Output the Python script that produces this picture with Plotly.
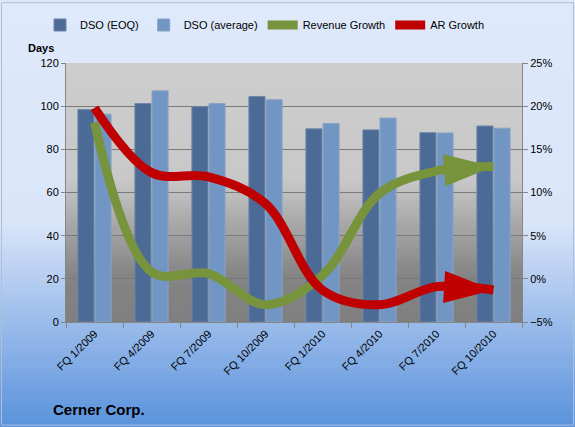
import plotly.graph_objects as go

categories = ["FQ 1/2009", "FQ 4/2009", "FQ 7/2009", "FQ 10/2009",
              "FQ 1/2010", "FQ 4/2010", "FQ 7/2010", "FQ 10/2010"]
dso_eoq = [98.4, 101.2, 99.8, 104.5, 89.5, 89.0, 87.7, 90.8]
dso_avg = [96.3, 107.1, 101.2, 103.0, 92.0, 94.5, 87.6, 89.8]
revenue_growth = [18.1, 0.8, 0.6, -3.0, 0.4, 9.9, 12.5, 13.0]
ar_growth = [19.8, 12.3, 11.8, 8.7, -1.3, -3.0, -0.9, -1.3]

W, H = 575, 427
ML, MR, MT, MB = 66, 53, 62, 105
PW, PH = W - ML - MR, H - MT - MB

FONT = "Liberation Sans"


def lerp_color(stops, t):
    for i in range(len(stops) - 1):
        t0, c0 = stops[i]
        t1, c1 = stops[i + 1]
        if t0 <= t <= t1:
            f = 0 if t1 == t0 else (t - t0) / (t1 - t0)
            c = [round(c0[k] + (c1[k] - c0[k]) * f) for k in range(3)]
            return "rgb(%d,%d,%d)" % tuple(c)
    c = stops[-1][1]
    return "rgb(%d,%d,%d)" % tuple(c)


def px_x(x):
    return (x - ML) / PW


def px_y(y):
    return 1 - (y - MT) / PH


shapes = []
# figure background gradient (top -> bottom)
paper_stops = [(0.0, (222, 233, 251)), (0.52, (217, 229, 249)),
               (0.63, (188, 209, 242)), (1.0, (90, 146, 220))]
N = 90
for i in range(N):
    y0 = H * i / N
    y1 = H * (i + 1) / N + 0.6
    shapes.append(dict(type="rect", xref="paper", yref="paper",
                       x0=px_x(0), x1=px_x(W), y0=px_y(y1), y1=px_y(y0),
                       fillcolor=lerp_color(paper_stops, (i + 0.5) / N),
                       line=dict(width=0), layer="below"))
# plot area gradient
plot_stops = [(0.0, (205, 205, 205)), (0.45, (200, 200, 200)),
              (0.62, (168, 168, 168)), (0.82, (132, 132, 132)),
              (1.0, (127, 127, 127))]
N2 = 70
for i in range(N2):
    y0 = MT + PH * i / N2
    y1 = MT + PH * (i + 1) / N2 + 0.5
    shapes.append(dict(type="rect", xref="paper", yref="paper",
                       x0=0, x1=1, y0=px_y(min(y1, MT + PH)), y1=px_y(y0),
                       fillcolor=lerp_color(plot_stops, (i + 0.5) / N2),
                       line=dict(width=0), layer="below"))
# outer border
shapes.append(dict(type="rect", xref="paper", yref="paper",
                   x0=px_x(1.5), x1=px_x(W - 1.5), y0=px_y(H - 1.5), y1=px_y(1.5),
                   line=dict(color="#AEBFD8", width=1), layer="below"))

fig = go.Figure()
fig.add_trace(go.Bar(x=categories, y=dso_eoq, name="DSO (EOQ)",
                     marker=dict(color="#4B6B96",
                                 line=dict(color="#6F86A6", width=1))))
fig.add_trace(go.Bar(x=categories, y=dso_avg, name="DSO (average)",
                     marker=dict(color="#7196C3",
                                 line=dict(color="#8AA3C4", width=1))))

n = len(categories)
sizes = [0] * (n - 1) + [52]
fig.add_trace(go.Scatter(x=categories, y=revenue_growth, name="Revenue Growth",
                         yaxis="y2", mode="lines+markers",
                         line=dict(color="#77933C", width=9, shape="spline",
                                   smoothing=1.0),
                         marker=dict(symbol="arrow", size=sizes, angleref="previous",
                                     color="#77933C", opacity=1,
                                     line=dict(width=0))))
fig.add_trace(go.Scatter(x=categories, y=ar_growth, name="AR Growth",
                         yaxis="y2", mode="lines+markers",
                         line=dict(color="#C00000", width=9, shape="spline",
                                   smoothing=1.0),
                         marker=dict(symbol="arrow", size=sizes, angleref="previous",
                                     color="#C00000", opacity=1,
                                     line=dict(width=0))))

axis_font = dict(family=FONT, size=11, color="#000000")

fig.update_layout(
    width=W, height=H,
    margin=dict(l=ML, r=MR, t=MT, b=MB, pad=0),
    paper_bgcolor="#DEE9FB",
    plot_bgcolor="rgba(0,0,0,0)",
    barmode="group", bargap=0.4, bargroupgap=0.06,
    shapes=shapes,
    showlegend=True,
    legend=dict(orientation="h", x=px_x(40), xanchor="left",
                y=px_y(25), yanchor="middle",
                font=dict(family=FONT, size=11, color="#000000"),
                bgcolor="rgba(0,0,0,0)", itemwidth=30,
                traceorder="normal"),
    xaxis=dict(type="category", tickangle=-45, tickfont=axis_font,
               range=[-0.5, n - 0.5], autorange=False,
               showline=True, linecolor="#868686", linewidth=1,
               ticks="outside", ticklen=5, tickcolor="#868686",
               tickson="boundaries", showgrid=False),
    yaxis=dict(range=[0, 120], dtick=20, tickfont=axis_font,
               showline=True, linecolor="#868686", ticks="outside",
               ticklen=4, tickcolor="#868686",
               showgrid=True, gridcolor="#7A7A7A", gridwidth=1,
               zeroline=False),
    yaxis2=dict(range=[-5, 25], dtick=5, ticksuffix="%", tickfont=axis_font,
                overlaying="y", side="right", showgrid=False, zeroline=False,
                showline=True, linecolor="#868686", ticks="outside",
                ticklen=5, tickcolor="#868686"),
    annotations=[
        dict(text="<b>Days</b>", xref="paper", yref="paper",
             x=px_x(41), y=px_y(47), xanchor="center", yanchor="middle",
             showarrow=False, font=dict(family=FONT, size=11, color="#000000")),
        dict(text="<b>Cerner Corp.</b>", xref="paper", yref="paper",
             x=px_x(51), y=px_y(410), xanchor="left", yanchor="middle",
             showarrow=False, font=dict(family=FONT, size=15, color="#000000")),
    ],
)

fig.write_html("out.html")
